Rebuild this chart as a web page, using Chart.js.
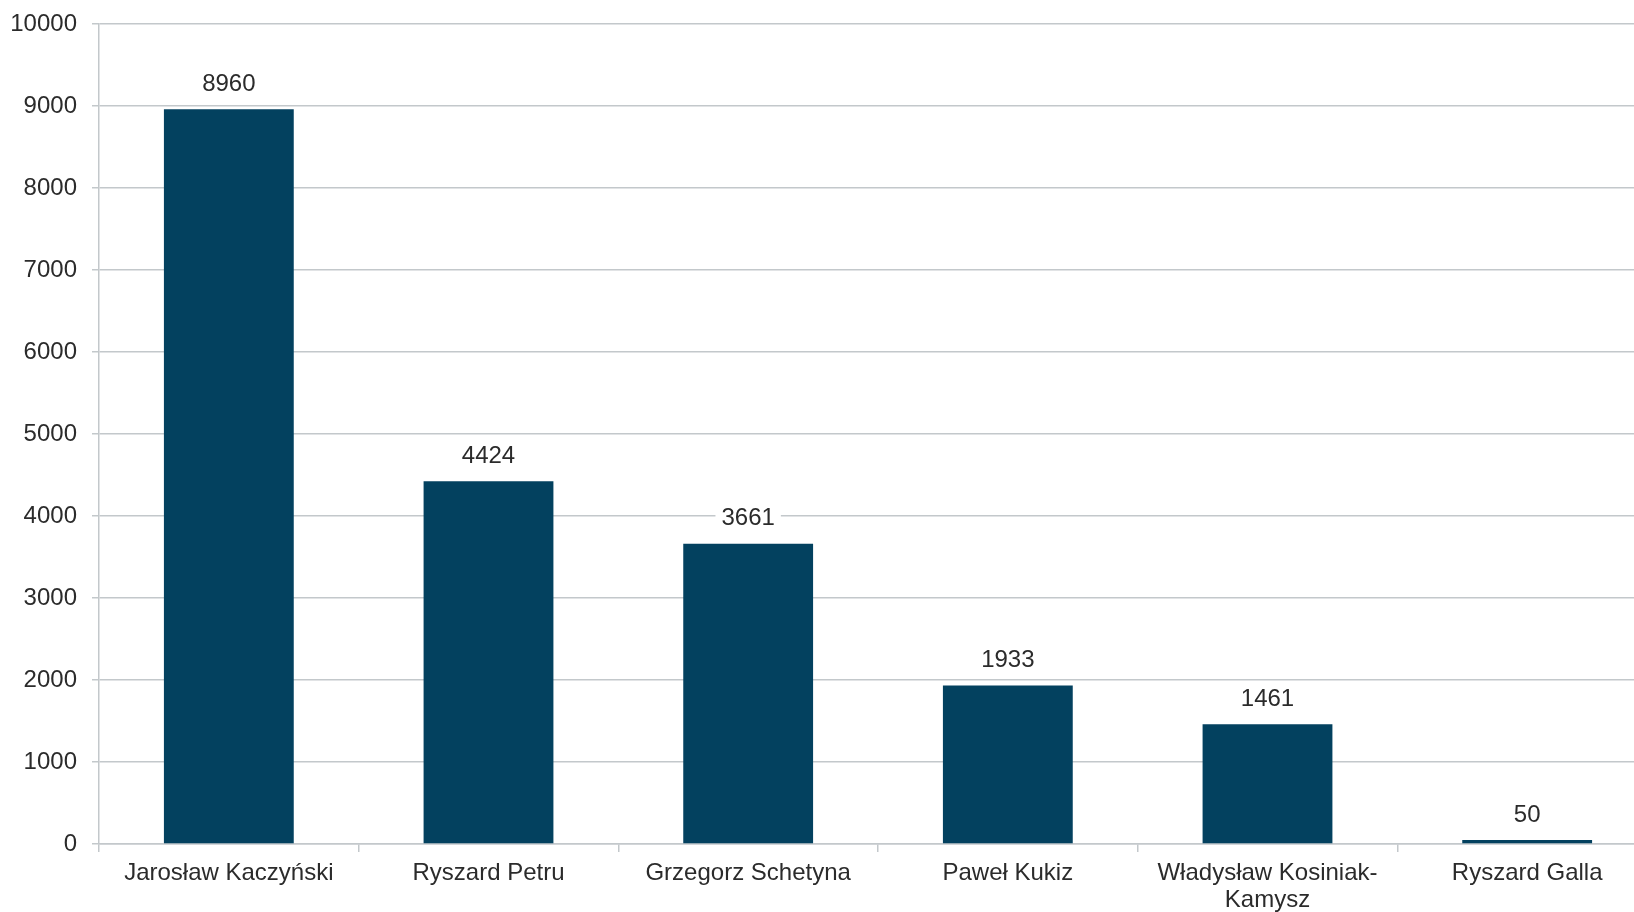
<!DOCTYPE html>
<html lang="pl">
<head>
<meta charset="utf-8">
<title>Liczba głosów</title>
<script src="https://cdn.jsdelivr.net/npm/chart.js@4.4.1/dist/chart.umd.min.js"></script>
<style>
  html, body { margin: 0; padding: 0; background: #fff; overflow: hidden; }
  /* wykres jest szerszy niż okno, prawa krawędź zostaje ucięta */
  #wrap { position: relative; width: 1660px; height: 912px; }
</style>
</head>
<body>
<div id="wrap"><canvas id="wykres"></canvas></div>
<script>
// Dane wykresu
const kandydaci = [
  'Jarosław Kaczyński',
  'Ryszard Petru',
  'Grzegorz Schetyna',
  'Paweł Kukiz',
  ['Władysław Kosiniak-', 'Kamysz'],
  'Ryszard Galla'
];
const glosy = [8960, 4424, 3661, 1933, 1461, 50];
const skalaY = { min: 0, max: 10000, krok: 1000 };

// Kolory i czcionka
const kolorSlupka = '#03415f';
const kolorSiatki = '#c3c8cb';
const kolorTekstu = '#2b2b2b';
const czcionka = "'Liberation Sans', Arial, sans-serif";

// Etykiety wartości nad słupkami, z białym tłem
const etykietyWartosci = {
  id: 'etykietyWartosci',
  afterDatasetsDraw(chart) {
    const ctx = chart.ctx;
    const meta = chart.getDatasetMeta(0);
    ctx.save();
    ctx.font = '24px ' + czcionka;
    ctx.textAlign = 'center';
    ctx.textBaseline = 'middle';
    meta.data.forEach((bar, i) => {
      const tekst = String(glosy[i]);
      const w = ctx.measureText(tekst).width + 12;
      const y = bar.y - 26;
      ctx.fillStyle = '#ffffff';
      ctx.fillRect(bar.x - w / 2, y - 13, w, 26);
      ctx.fillStyle = kolorTekstu;
      ctx.fillText(tekst, bar.x, y + 1);
    });
    ctx.restore();
  }
};

new Chart(document.getElementById('wykres'), {
  type: 'bar',
  data: {
    labels: kandydaci,
    datasets: [{
      data: glosy,
      backgroundColor: kolorSlupka,
      borderWidth: 0,
      barPercentage: 0.5,
      categoryPercentage: 1
    }]
  },
  options: {
    responsive: true,
    maintainAspectRatio: false,
    animation: false,
    layout: { padding: { top: 24, right: 3, left: 0, bottom: 0 } },
    plugins: {
      legend: { display: false },
      tooltip: { enabled: false }
    },
    scales: {
      x: {
        offset: true,
        grid: {
          offset: true,
          drawOnChartArea: false,
          drawTicks: true,
          tickLength: 8,
          color: kolorSiatki,
          lineWidth: 1.5
        },
        border: { color: kolorSiatki, width: 1.5 },
        ticks: {
          color: kolorTekstu,
          padding: 8,
          maxRotation: 0,
          autoSkip: false,
          font: { family: czcionka, size: 24, lineHeight: 1.125 }
        },
        afterFit(scale) { scale.height = 68; }
      },
      y: {
        min: skalaY.min,
        max: skalaY.max,
        grid: {
          color: kolorSiatki,
          lineWidth: 1.5,
          drawTicks: true,
          tickLength: 7
        },
        border: { color: kolorSiatki, width: 1.5 },
        ticks: {
          stepSize: skalaY.krok,
          color: kolorTekstu,
          padding: 15,
          font: { family: czcionka, size: 24 },
          callback: (v) => String(v)
        },
        afterFit(scale) {
          scale.width = 99;
          scale.paddingTop = 0;
          scale.paddingBottom = 0;
        }
      }
    }
  },
  plugins: [etykietyWartosci]
});
</script>
</body>
</html>
